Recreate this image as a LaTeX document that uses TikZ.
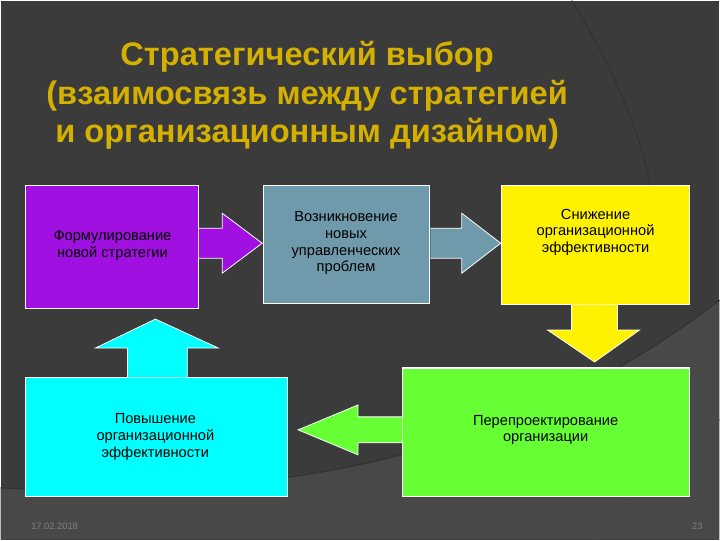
\documentclass[tikz,border=0pt]{standalone}
\usepackage{fontspec}
\setmainfont{Liberation Sans}
\usetikzlibrary{fit}
\begin{document}
\begin{tikzpicture}[x=0.75pt,y=-0.75pt,
  box/.style={draw=white,line width=0.8pt,inner sep=0pt},
  lbl/.style={font=\fontsize{11}{12.5}\selectfont,align=center,text=black},
  arr/.style={draw=white,line width=0.6pt}]
\fill[fill={rgb,255:red,59;green,59;blue,59}] (0,0) rectangle (720,540);
\fill[fill={rgb,255:red,72;green,72;blue,72}] (0,488) .. controls (250,500) and (500,470) .. (720,300) -- (720,540) -- (0,540) -- cycle;
\draw[black!80,line width=1pt] (572,0) .. controls (640,110) and (665,200) .. (660,300);
\draw[black!80,line width=1pt] (0,488) .. controls (250,500) and (500,470) .. (720,300);
\draw[black!70,line width=1pt] (600,540) .. controls (640,480) and (680,440) .. (720,420);
\node[text={rgb,255:red,212;green,176;blue,0},font=\bfseries\fontsize{24.5}{29}\selectfont,align=center] (title) at (307,95) {Стратегический выбор\\(взаимосвязь между стратегией\\и организационным дизайном)};
\node[box,fill={rgb,255:red,160;green,16;blue,224},fit={(25,185) (198,308)}] (a) {};
\node[lbl] at (112,245) {Формулирование\\новой стратегии};
\node[box,fill={rgb,255:red,111;green,154;blue,172},fit={(263,185) (430,303)}] (b) {};
\node[lbl] at (346,243) {Возникновение\\новых\\управленческих\\проблем};
\node[box,fill=yellow,fit={(502,185) (690,304)}] (c) {};
\node[lbl] at (596,232) {Снижение\\организационной\\эффективности};
\node[box,fill={rgb,255:red,102;green,255;blue,51},fit={(403,368) (690,497)}] (d) {};
\node[lbl] at (546,430) {Перепроектирование\\организации};
\node[box,fill={rgb,255:red,0;green,255;blue,255},fit={(25,378) (287,497)}] (e) {};
\node[lbl] at (155,437) {Повышение\\организационной\\эффективности};
% arrows
\filldraw[arr,fill={rgb,255:red,160;green,16;blue,224}] (a.east|-0,228) -- (222,228) -- (222,213) -- (262,243) -- (222,273) -- (222,258) -- (a.east|-0,258);
\filldraw[arr,fill={rgb,255:red,111;green,154;blue,172}] (b.east|-0,228) -- (462,228) -- (462,213) -- (501,243) -- (462,273) -- (462,258) -- (b.east|-0,258);
\filldraw[arr,fill=yellow] (572,0|-c.south) -- (572,330) -- (548,330) -- (595,362) -- (640,330) -- (618,330) -- (618,0|-c.south);
\filldraw[arr,fill={rgb,255:red,102;green,255;blue,51}] (d.west|-0,417) -- (358,417) -- (358,405) -- (298,430) -- (358,455) -- (358,443) -- (d.west|-0,443);
\filldraw[arr,fill={rgb,255:red,0;green,255;blue,255}] (127,0|-e.north) -- (127,348) -- (95,348) -- (155,319) -- (218,348) -- (187,348) -- (187,0|-e.north);
\node[text=gray,font=\fontsize{7}{8}\selectfont] (date) at (54,527) {17.02.2018};
\node[text=gray,font=\fontsize{7}{8}\selectfont] (pg) at (698,527) {23};
\end{tikzpicture}
\end{document}
